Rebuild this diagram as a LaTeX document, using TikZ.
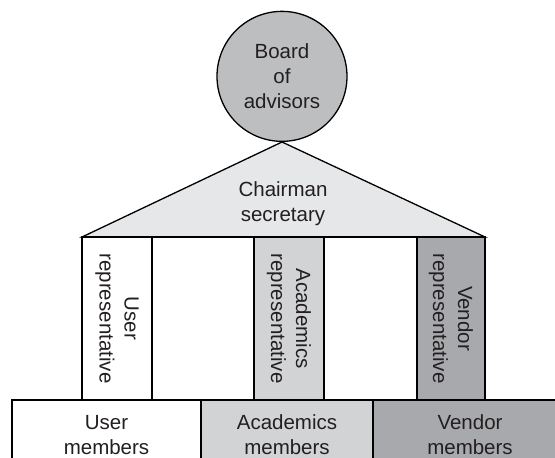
\documentclass[tikz,border=0pt]{standalone}
\usepackage{fontspec}
\setmainfont{Liberation Sans}
\usepackage{xcolor}
\definecolor{boardGray}{HTML}{BCBEC0}
\definecolor{chairGray}{HTML}{E6E7E8}
\definecolor{academicGray}{HTML}{D1D3D4}
\definecolor{vendorGray}{HTML}{A7A9AC}
\definecolor{darkText}{HTML}{231F20}
\usepackage{tikz}
\usetikzlibrary{positioning}

\begin{document}
\begin{tikzpicture}[
    x=1pt, y=-1pt,
    line width=1.3pt,
    font=\fontsize{20.5}{25}\selectfont,
    text=darkText,
    boardCircle/.style={
        circle,
        draw=black,
        fill=boardGray,
        minimum size=130pt,
        inner sep=0pt,
        align=center
    },
    roofLabel/.style={
        align=center,
        inner sep=0pt
    },
    repColumn/.style={
        rectangle,
        draw=black,
        fill=#1,
        minimum width=163pt,
        minimum height=70pt,
        inner sep=0pt,
        outer sep=0pt,
        rotate=-90,
        align=center
    },
    memberBox/.style={
        rectangle,
        draw=black,
        fill=#1,
        minimum height=70pt,
        inner sep=0pt,
        outer sep=0pt,
        anchor=north west,
        align=center
    }
]
\clip (0,0) rectangle (555,458);

% Chairman / secretary roof
\coordinate (apex) at (282,142);
\draw[fill=chairGray, line join=miter] (apex) -- (485,237) -- (82,237) -- cycle;
\node[roofLabel] (chair) at (283,204) {Chairman\\secretary};

% Board of advisors on top
\node[boardCircle, above=0pt of apex] (board) {Board\\of\\advisors};

% Representative columns
\draw (82,237) rectangle (485,400);
\node[repColumn=white] (userRep) at (117,318.5) {User\\representative};
\node[repColumn=academicGray] (acadRep) at (289,318.5) {Academics\\representative};
\node[repColumn=vendorGray, minimum height=68pt] (vendRep) at (451,318.5) {Vendor\\representative};

% Member groups
\node[memberBox=white, minimum width=189pt] (userMem) at (12,400) {User\\members};
\node[memberBox=academicGray, minimum width=172pt, right=0pt of userMem] (acadMem) {Academics\\members};
\node[memberBox=vendorGray, minimum width=194pt, right=0pt of acadMem] (vendMem) {Vendor\\members};

\end{tikzpicture}
\end{document}
